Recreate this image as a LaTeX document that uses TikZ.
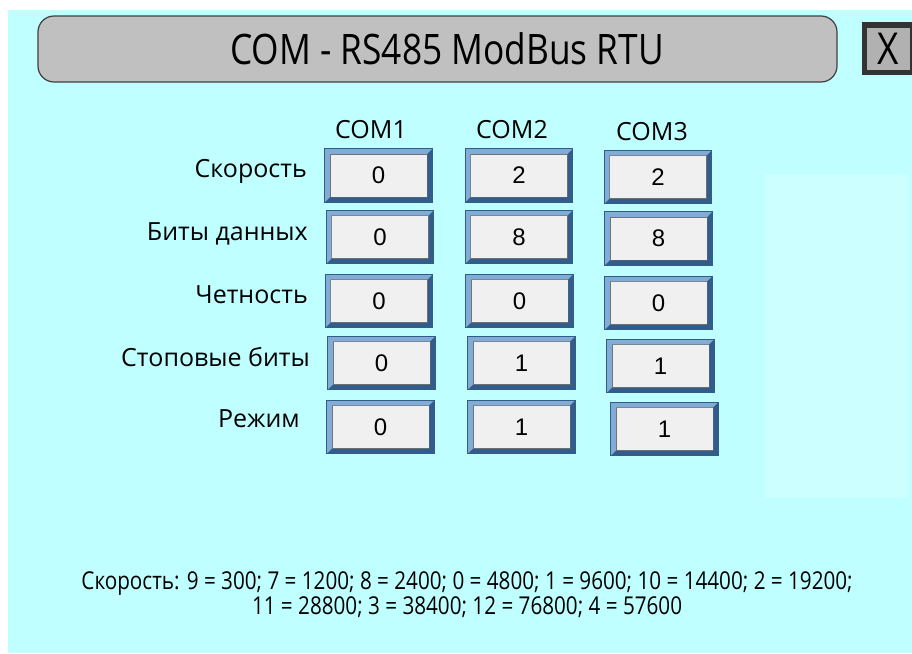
\documentclass[tikz,border=0pt]{standalone}
\usepackage{fontspec}
\usetikzlibrary{calc,positioning}
\newfontfamily\labfont{Open Sans}
\newfontfamily\condfont[FakeStretch=0.84]{Open Sans}
\newfontfamily\numfont{Liberation Sans}
\definecolor{PanelCyan}{RGB}{191,255,255}
\definecolor{PaleCyan}{RGB}{204,255,255}
\definecolor{BarGray}{RGB}{192,192,192}
\definecolor{EdgeGray}{RGB}{64,64,64}
\definecolor{FaceGray}{RGB}{240,240,240}
\definecolor{BevelLight}{RGB}{128,172,214}
\definecolor{BevelDark}{RGB}{50,92,138}

\tikzset{
  rowlabel/.style={anchor=east,inner sep=0pt,font=\labfont\fontsize{25}{30}\selectfont},
  comhead/.style={font=\labfont\fontsize{25}{30}\selectfont},
  valbox/.style={draw=black!55,line width=.5pt,fill=FaceGray,inner sep=0pt,
    minimum width=97pt,minimum height=43pt,font=\numfont\fontsize{24}{28}\selectfont},
}

\begin{document}
\begin{tikzpicture}[x=1pt,y=-1pt]
  \useasboundingbox (0,0) rectangle (912,653);
  \fill[white] (0,0) rectangle (912,653);
  \fill[PanelCyan] (8,10) rectangle (912,653);
  \fill[PaleCyan] (765,174) rectangle (908,498);

  % title bar
  \node[draw=EdgeGray,line width=1.2pt,fill=BarGray,rounded corners=16pt,
    minimum width=799pt,minimum height=66pt] (title) at (437.5,49) {};
  \node[font=\condfont\fontsize{42}{48}\selectfont] at (447,49) {COM - RS485 ModBus RTU};

  % close button
  \fill[EdgeGray!80!black] (862,22) rectangle (918,75);
  \node[draw=black!80,line width=.6pt,fill=BarGray!92!black,minimum width=44pt,minimum height=43pt,
    font=\condfont\fontsize{44}{48}\selectfont] (close) at (888,48.5) {X};

  % column heads
  \node[comhead] (com1) at (371,130) {COM1};
  \node[comhead] (com2) at (512,130) {COM2};
  \node[comhead] (com3) at (652,132) {COM3};

  % row labels
  \node[rowlabel] (lspeed) at (307,171) {Скорость};
  \node[rowlabel] (ldata)  at (308,234) {Биты данных};
  \node[rowlabel] (lpar)   at (308,295) {Четность};
  \node[rowlabel] (lstop)  at (310,357) {Стоповые биты};
  \node[rowlabel] (lmode)  at (300,419) {Режим};

  % value boxes
  \foreach \n/\x/\y/\v in {b11/378.5/175.5/0, b12/519/175.5/2, b13/658/177/2,
                           b21/380/237/0, b22/519/237/8, b23/658.5/238.5/8,
                           b31/379/301/0, b32/519.5/301/0, b33/658.5/303/0,
                           b41/381.5/363/0, b42/521.5/363/1, b43/660.5/366/1,
                           b51/380.5/427/0, b52/521.5/427/1, b53/664.5/429/1}{
    \node[valbox] (\n) at (\x,\y) {\v};
    \fill[BevelLight] ($(\n.north west)+(-5,-5)$) -- ($(\n.north east)+(5,-5)$) -- (\n.north east)
      -- (\n.north west) -- (\n.south west) -- ($(\n.south west)+(-5,5)$) -- cycle;
    \fill[BevelDark] ($(\n.south east)+(5,5)$) -- ($(\n.south west)+(-5,5)$) -- (\n.south west)
      -- (\n.south east) -- (\n.north east) -- ($(\n.north east)+(5,-5)$) -- cycle;
    \draw[BevelDark,line width=.6pt] ($(\n.north west)+(-5,-5)$) rectangle ($(\n.south east)+(5,5)$);
  }

  % speed codes
  \node[font=\condfont\fontsize{24.6}{25}\selectfont,align=center] (codes) at (467,595)
    {Скорость: 9 = 300; 7 = 1200; 8 = 2400; 0 = 4800; 1 = 9600; 10 = 14400; 2 = 19200;\\
     11 = 28800; 3 = 38400; 12 = 76800; 4 = 57600};
\end{tikzpicture}
\end{document}
